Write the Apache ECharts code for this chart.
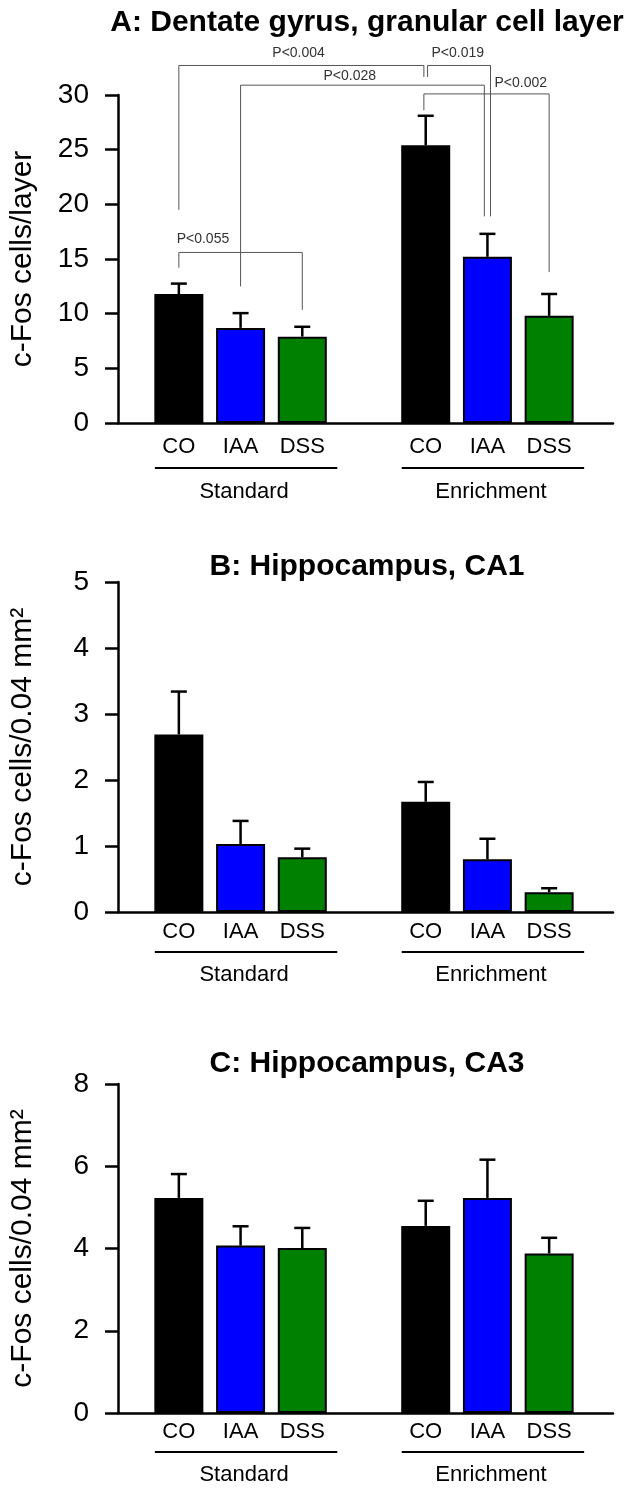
<!DOCTYPE html>
<html><head><meta charset="utf-8">
<script src="https://cdn.jsdelivr.net/npm/echarts@6/dist/echarts.min.js"></script>
<style>html,body{margin:0;padding:0;background:#fff}#c{width:628px;height:1491px}</style>
</head><body><div id="c"></div>
<script>
// ---------- data ----------
const categories = ['CO', 'IAA', 'DSS', '', 'CO', 'IAA', 'DSS'];
const groups = ['Standard', 'Enrichment'];
const groupSlots = [[0, 2], [4, 6]];
const titles = ['A: Dentate gyrus, granular cell layer', 'B: Hippocampus, CA1', 'C: Hippocampus, CA3'];
const yNames = ['c-Fos cells/layer', 'c-Fos cells/0.04 mm\u00b2', 'c-Fos cells/0.04 mm\u00b2'];
const yMax = [30, 5, 8];
const yStep = [5, 1, 2];

const meanA = [11.8, 8.7, 7.9, 25.4, 15.2, 9.8];
const errA  = [0.95, 1.35, 0.9, 2.7, 2.1, 2.0];
const meanB = [2.69, 1.03, 0.83, 1.67, 0.80, 0.30];
const errB  = [0.65, 0.35, 0.13, 0.30, 0.31, 0.06];
const meanC = [5.23, 4.07, 4.01, 4.55, 5.23, 3.88];
const errC  = [0.58, 0.47, 0.49, 0.61, 0.93, 0.38];

// significance brackets for panel A: legs at slot positions, top level, leg end levels, label position
const bracketLabels = ['P<0.004', 'P<0.019', 'P<0.028', 'P<0.002', 'P<0.055'];
const bracketLegs   = [[0, 3.97], [4.03, 5.05], [1, 4.95], [3.97, 6], [0, 2]];
const bracketTops   = [32.7, 32.7, 30.9, 30.1, 15.6];
const bracketEnds   = [[19.5, 31.65], [31.65, 18.9], [12.5, 18.9], [28.6, 13.8], [14.2, 10.35]];
const bracketTextAt = [[1.94, 33.8], [4.52, 33.85], [2.77, 31.75], [5.54, 31.1], [0.39, 16.82]];

// ---------- styling / layout ----------
const FONT = "'Liberation Sans', Arial, sans-serif";
const barColors = ['#000000', '#0000FF', '#008000'];
const panels = [
  {top: 95,   h: 328, titleTop: 3,    labMargin: 13, ulOff: 45, glOff: 68.5},
  {top: 582,  h: 330, titleTop: 547,  labMargin: 9,  ulOff: 40, glOff: 63},
  {top: 1084, h: 329, titleTop: 1044, labMargin: 8,  ulOff: 39, glOff: 61.5}
];
const means = [meanA, meanB, meanC];
const errs = [errA, errB, errC];

function slotOf(i) { return i < 3 ? i : i + 1; }
function xAt(api, frac, y) {
  const c0 = api.coord([0, y]), c1 = api.coord([1, y]);
  return c0[0] + frac * (c1[0] - c0[0]);
}

const option = {
  animation: false,
  backgroundColor: '#fff',
  title: [], grid: [], xAxis: [], yAxis: [], series: []
};

panels.forEach((p, k) => {
  option.title.push({
    text: titles[k], left: 362, top: p.titleTop, textAlign: 'center',
    textStyle: {fontFamily: FONT, fontSize: 30, fontWeight: 'bold', color: '#000'}
  });
  option.grid.push({left: 117, right: 15, top: p.top, height: p.h});
  option.grid.push({left: 148, right: 48, top: p.top, height: p.h});
  const gMain = 2 * k, gBar = 2 * k + 1;
  option.xAxis.push({
    gridIndex: gMain, type: 'value', min: 0, max: 1,
    axisLine: {show: true, onZero: false, lineStyle: {color: '#000', width: 2.5}},
    axisTick: {show: false}, axisLabel: {show: false}, splitLine: {show: false}
  });
  option.xAxis.push({
    gridIndex: gBar, type: 'category', data: categories,
    axisLine: {show: false}, axisTick: {show: false},
    axisLabel: {interval: 0, margin: p.labMargin, fontFamily: FONT, fontSize: 22, color: '#000'}
  });
  option.yAxis.push({
    gridIndex: gMain, type: 'value', min: 0, max: yMax[k], interval: yStep[k],
    name: yNames[k], nameLocation: 'middle', nameGap: 80,
    nameTextStyle: {fontFamily: FONT, fontSize: 30, color: '#000'},
    axisLine: {show: true, lineStyle: {color: '#000', width: 2.5}},
    axisTick: {show: true, length: 13, lineStyle: {color: '#000', width: 2.5}},
    axisLabel: {margin: 29, fontFamily: FONT, fontSize: 28, color: '#000'},
    splitLine: {show: false}
  });
  option.yAxis.push({gridIndex: gBar, type: 'value', min: 0, max: yMax[k], show: false});

  const barData = categories.map(() => '-');
  means[k].forEach((m, i) => {
    barData[slotOf(i)] = {value: m, itemStyle: {color: barColors[i % 3]}};
  });
  option.series.push({
    type: 'bar', xAxisIndex: gBar, yAxisIndex: gBar, data: barData, barWidth: 49,
    itemStyle: {borderColor: '#000', borderWidth: 2}, silent: true, z: 2
  });

  option.series.push({
    type: 'custom', xAxisIndex: gBar, yAxisIndex: gBar, clip: false, silent: true, z: 5,
    data: means[k].map((m, i) => [slotOf(i), m, m + errs[k][i]]),
    encode: {x: 0, y: [1, 2]},
    renderItem: (params, api) => {
      const x = api.value(0);
      const p0 = api.coord([x, api.value(1)]);
      const p1 = api.coord([x, api.value(2)]);
      return {type: 'group', children: [
        {type: 'line', shape: {x1: p0[0], y1: p0[1], x2: p1[0], y2: p1[1]}, style: {stroke: '#000', lineWidth: 2.5}},
        {type: 'line', shape: {x1: p1[0] - 8, y1: p1[1], x2: p1[0] + 8, y2: p1[1]}, style: {stroke: '#000', lineWidth: 2.5}}
      ]};
    }
  });

  // group underlines and names
  option.series.push({
    type: 'custom', xAxisIndex: gBar, yAxisIndex: gBar, clip: false, silent: true, z: 5,
    data: groups.map((g, i) => [groupSlots[i][0], 0, i]),
    encode: {x: 0, y: 1},
    renderItem: (params, api) => {
      const gi = params.dataIndex;
      const a = api.coord([groupSlots[gi][0], 0]);
      const b = api.coord([groupSlots[gi][1], 0]);
      const x1 = a[0] - 24, x2 = b[0] + 35;
      return {type: 'group', children: [
        {type: 'line', shape: {x1: x1, y1: a[1] + p.ulOff, x2: x2, y2: a[1] + p.ulOff}, style: {stroke: '#000', lineWidth: 2}},
        {type: 'text', style: {text: groups[gi], x: (x1 + x2) / 2 - 2, y: a[1] + p.glOff, align: 'center', verticalAlign: 'middle',
          fontFamily: FONT, fontSize: 22, fill: '#000'}}
      ]};
    }
  });

  if (k === 0) {
    option.series.push({
      type: 'custom', xAxisIndex: gBar, yAxisIndex: gBar, clip: false, silent: true, z: 6,
      data: bracketLabels.map((l, i) => [0, bracketTops[i], i]),
      encode: {x: 0, y: 1},
      renderItem: (params, api) => {
        const i = params.dataIndex;
        const xl = xAt(api, bracketLegs[i][0], 0), xr = xAt(api, bracketLegs[i][1], 0);
        const yt = api.coord([0, bracketTops[i]])[1];
        const yl = api.coord([0, bracketEnds[i][0]])[1];
        const yr = api.coord([0, bracketEnds[i][1]])[1];
        const tx = xAt(api, bracketTextAt[i][0], 0);
        const ty = api.coord([0, bracketTextAt[i][1]])[1];
        return {type: 'group', children: [
          {type: 'polyline', shape: {points: [[xl, yl], [xl, yt], [xr, yt], [xr, yr]]},
           style: {stroke: '#555', lineWidth: 1, fill: null}},
          {type: 'text', style: {text: bracketLabels[i], x: tx, y: ty, align: 'center', verticalAlign: 'middle',
            fontFamily: FONT, fontSize: 14, fill: '#333'}}
        ]};
      }
    });
  }
});

const chart = echarts.init(document.getElementById('c'), null, {renderer: 'canvas'});
chart.setOption(option);
</script>
</body></html>
